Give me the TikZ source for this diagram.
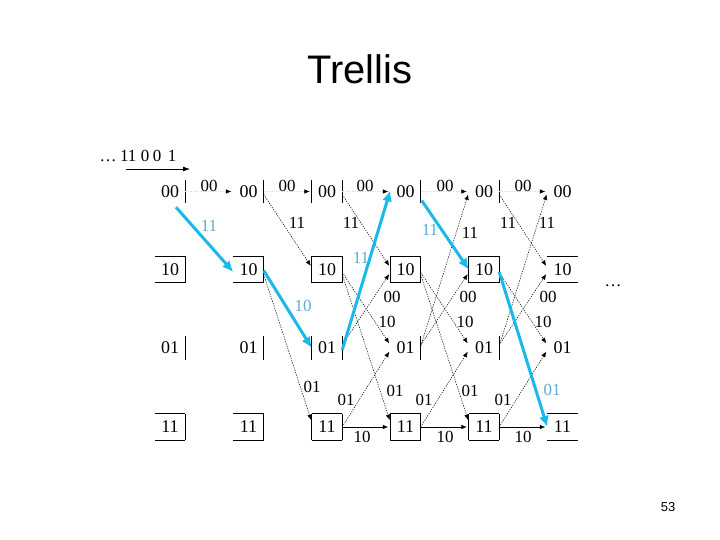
\documentclass[tikz,border=0pt]{standalone}
\usepackage{fontspec}
\setmainfont{Liberation Serif}
\newfontfamily\arialf{Liberation Sans}
\usetikzlibrary{arrows.meta}
\definecolor{pathblue}{RGB}{25,185,235}
\definecolor{lblblue}{RGB}{95,170,210}
\begin{document}
\begin{tikzpicture}[x=1bp,y=-1bp,
 st/.style={minimum width=30bp, minimum height=26bp, inner sep=0pt, font=\fontsize{18}{18}\selectfont},
 lbl/.style={inner sep=0pt, font=\fontsize{17}{17}\selectfont},
 blbl/.style={lbl, text=lblblue},
 bar/.style={line width=0.8bp},
 thinedge/.style={line width=0.5bp, dash pattern=on 1.3bp off 1.2bp, -{Latex[length=5.5bp,width=4.5bp]}, shorten >=2bp},
 faintedge/.style={line width=0.5bp, draw=black!12, dash pattern=on 1.3bp off 1.2bp, -{Latex[length=5.5bp,width=4.5bp,black]}, shorten >=2bp},
 solidedge/.style={line width=0.6bp, -{Latex[length=5.5bp,width=4.5bp]}, shorten >=2bp},
 hl/.style={line width=3bp, pathblue, -{Latex[length=11bp,width=10bp]}},
 ]
\useasboundingbox (0,0) rectangle (720,540);

% title and page number
\node[font=\arialf\fontsize{40}{40}\selectfont, anchor=base] (title) at (360,84) {Trellis};
\node[font=\arialf\fontsize{13}{13}\selectfont, anchor=base] (pg) at (668,511) {53};

% input sequence
\node[lbl, anchor=west] (seq) at (99.5,156) {\dots\hspace{3.5bp}11\hspace{4.5bp}0\hspace{3.5bp}0\hspace{6.5bp}1};
\coordinate (sa) at (126,169);
\coordinate (sb) at (190,169);
\draw[line width=0.8bp,-{Latex[length=7bp,width=5bp]}] (sa) -- (sb);
\node[lbl] (ell) at (613,286) {\dots};

% state nodes
\foreach \c in {0,...,5} {
  \foreach \r/\s/\y in {0/00/191.5,1/10/269.5,2/01/348,3/11/427} {
    \node[st] (n\c\r) at ({170+78.5*\c}, \y) {\s};
  }
}
% bars for 00 / 01 rows
\foreach \c in {0,...,4} {
  \foreach \r in {0,2} {
    \draw[bar] ([yshift=-1.5bp]n\c\r.north east) -- ([yshift=1.5bp]n\c\r.south east);
  }
}
\foreach \r in {0,2} {
  \draw[bar] ([yshift=-1.5bp]n2\r.north west) -- ([yshift=1.5bp]n2\r.south west);
}
% boxes for 10 / 11 rows
\foreach \c in {0,...,5} {
  \foreach \r in {1,3} {
    \draw[bar] (n\c\r.north west) -- (n\c\r.north east);
    \draw[bar] (n\c\r.south west) -- (n\c\r.south east);
  }
}
\foreach \c in {0,...,4} {
  \foreach \r in {1,3} {
    \draw[bar] (n\c\r.north east) -- (n\c\r.south east);
  }
}
\foreach \c in {2,3,4} {
  \foreach \r in {1,3} {
    \draw[bar] (n\c\r.north west) -- (n\c\r.south west);
  }
}

% thin transitions
\foreach \c/\d in {0/1,1/2,2/3,3/4,4/5} {
  \draw[faintedge] (n\c0.east) -- (n\d0.west);
}
\foreach \c/\d in {1/2,2/3,4/5} {
  \draw[thinedge] ([yshift=-3bp]n\c0.east) -- ([yshift=2bp]n\d1.west);
}
\foreach \c/\d in {2/3,3/4,4/5} {
  \draw[thinedge] ([yshift=-3bp]n\c1.east) -- ([yshift=3bp]n\d2.west);
}
\foreach \c/\d in {1/2,2/3,3/4} {
  \draw[thinedge] ([yshift=-5bp]n\c1.east) -- ([yshift=5bp]n\d3.west);
}
\foreach \c/\d in {3/4,4/5} {
  \draw[thinedge] ([yshift=2bp]n\c2.east) -- ([yshift=-1bp]n\d0.west);
}
\foreach \c/\d in {2/3,3/4,4/5} {
  \draw[thinedge] ([yshift=3bp]n\c2.east) -- ([yshift=-3bp]n\d1.west);
  \draw[thinedge] (n\c3.east) -- ([yshift=-2bp]n\d2.west);
  \draw[solidedge] (n\c3.east) -- (n\d3.west);
}

% highlighted path
\draw[hl] ([xshift=6bp,yshift=-2.5bp]n00.south) -- ([yshift=-2.5bp]n11.west);
\draw[hl] ([yshift=-1bp]n11.east) -- (n22.west);
\draw[hl] ([yshift=-2bp]n22.east) -- ([yshift=1bp]n30.west);
\draw[hl] ([xshift=1bp,yshift=-9bp]n30.east) -- (n41.west);
\draw[hl] ([yshift=-2.5bp]n41.east) -- (n53.west);

% transition labels
\foreach \x [count=\i] in {209,287,365,445,523} {
  \node[lbl] (la\i) at (\x,186) {00};
}
\foreach \x/\y [count=\i] in {297/223,351/223,470/233,508/223,547/223} {
  \node[lbl] (lb\i) at (\x,\y) {11};
}
\foreach \x/\y [count=\i] in {209/226,361/258,430/230} {
  \node[blbl] (lc\i) at (\x,\y) {11};
}
\node[blbl] (ld1) at (303,306) {10};
\node[blbl] (ld2) at (552,390) {01};
\foreach \x [count=\i] in {392,468,548} {
  \node[lbl] (le\i) at (\x,297) {00};
}
\foreach \x [count=\i] in {387,465,543} {
  \node[lbl] (lf\i) at (\x,322) {10};
}
\foreach \x/\y [count=\i] in {312/387,395/391,470/391} {
  \node[lbl] (lg\i) at (\x,\y) {01};
}
\foreach \x [count=\i] in {346,424,503} {
  \node[lbl] (lh\i) at (\x,400) {01};
}
\foreach \x [count=\i] in {362,445,523} {
  \node[lbl] (lk\i) at (\x,437) {10};
}
\end{tikzpicture}
\end{document}
